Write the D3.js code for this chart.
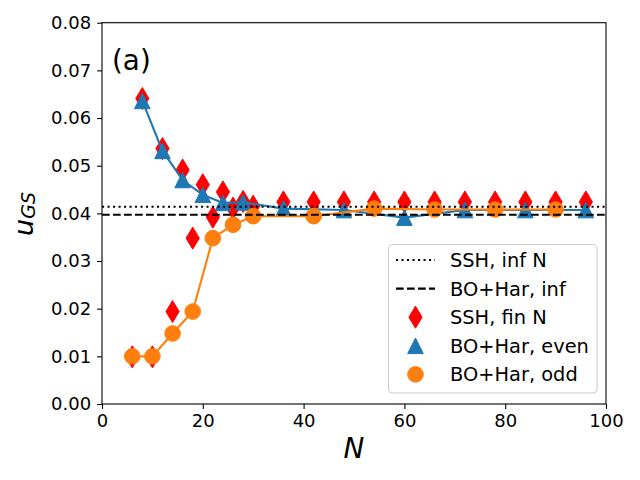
<!DOCTYPE html>
<html>
<head>
<meta charset="utf-8">
<script src="https://cdn.jsdelivr.net/npm/d3@7"></script>
<style>
	body { margin: 0; background: #fff; }
	text { font-family: "DejaVu Sans", sans-serif; fill: #000; }
</style>
</head>
<body>
<div id="chart"></div>
<script>
// ground state energy vs N

var finN = [6, 8, 10, 12, 14, 16, 18, 20, 22, 24, 26, 28, 30, 36, 42, 48, 54, 60, 66, 72, 78, 84, 90, 96];
var finU = [0.0099, 0.0641, 0.0099, 0.0536, 0.0194, 0.0491, 0.0348, 0.0460, 0.0392, 0.0445, 0.0411, 0.0425,
	0.0415, 0.0424, 0.0424, 0.0424, 0.0424, 0.0424, 0.0424, 0.0424, 0.0424, 0.0424, 0.0424, 0.0424];

var evenN = [8, 12, 16, 20, 24, 28, 36, 48, 60, 72, 84, 96];
var evenU = [0.0636, 0.0531, 0.0470, 0.0439, 0.0422, 0.0423, 0.0410, 0.0407, 0.0391, 0.0407, 0.0407, 0.0407];

var oddN = [6, 10, 14, 18, 22, 26, 30, 42, 54, 66, 78, 90];
var oddU = [0.0100, 0.0100, 0.0148, 0.0194, 0.0348, 0.0376, 0.0394, 0.0394, 0.0410, 0.0408, 0.0408, 0.0408];

var sshInf = 0.0414;
var boInf = 0.0397;

var xTicks = [0, 20, 40, 60, 80, 100];
var yTicks = [0, 0.01, 0.02, 0.03, 0.04, 0.05, 0.06, 0.07, 0.08];

var legendLabels = ["SSH, inf N", "BO+Har, inf", "SSH, fin N", "BO+Har, even", "BO+Har, odd"];

var w = 640,
	h = 480,
	blue = "#1f77b4",
	orange = "#ff7f0e";

var x = d3.scaleLinear().domain([0, 100]).range([102, 606]);
var y = d3.scaleLinear().domain([0, 0.08]).range([404, 22.7]);

function diamondPath(hw, hh) {
	return "M0," + (-hh) + "L" + hw + ",0L0," + hh + "L" + (-hw) + ",0Z";
}
function trianglePath(s) {
	return "M0," + (-s) + "L" + s + "," + s + "L" + (-s) + "," + s + "Z";
}

var svg = d3.select("#chart")
	.append("svg")
	.attr("width", w)
	.attr("height", h);

// axes
var xAxis = d3.axisBottom(x).tickValues(xTicks).tickFormat(d3.format("d"))
	.tickSize(4.9).tickPadding(5);
var yAxis = d3.axisLeft(y).tickValues(yTicks).tickFormat(d3.format(".2f"))
	.tickSize(4.9).tickPadding(6);

var gx = svg.append("g")
	.attr("transform", "translate(0," + y(0) + ")")
	.call(xAxis);
var gy = svg.append("g")
	.attr("transform", "translate(" + x(0) + ",0)")
	.call(yAxis);

[gx, gy].forEach(function(g) {
	g.selectAll("text")
		.attr("font-family", "DejaVu Sans")
		.attr("font-size", "18px")
		.attr("fill", "#000");
	g.selectAll("line").attr("stroke", "#000").attr("stroke-width", 1.1);
	g.select(".domain").remove();
});

// frame
svg.append("rect")
	.attr("x", x(0))
	.attr("y", y(0.08))
	.attr("width", x(100) - x(0))
	.attr("height", y(0) - y(0.08))
	.attr("fill", "none")
	.attr("stroke", "#000")
	.attr("stroke-width", 1.1);

// SSH finite N
svg.selectAll("path.fin")
	.data(finN)
	.enter().append("path")
	.attr("class", "fin")
	.attr("d", diamondPath(6.6, 11))
	.attr("transform", function(d, i) {
		return "translate(" + x(d) + "," + y(finU[i]) + ")";
	})
	.attr("fill", "red")
	.attr("stroke", "red")
	.attr("stroke-width", 1);

// BO+Har even
var line = d3.line()
	.x(function(d) { return x(d[0]); })
	.y(function(d) { return y(d[1]); });

svg.append("path")
	.datum(d3.zip(evenN, evenU))
	.attr("d", line)
	.attr("fill", "none")
	.attr("stroke", blue)
	.attr("stroke-width", 2.1);

svg.selectAll("path.even")
	.data(evenN)
	.enter().append("path")
	.attr("class", "even")
	.attr("d", trianglePath(7.8))
	.attr("transform", function(d, i) {
		return "translate(" + x(d) + "," + y(evenU[i]) + ")";
	})
	.attr("fill", blue)
	.attr("stroke", blue)
	.attr("stroke-width", 1);

// BO+Har odd
svg.append("path")
	.datum(d3.zip(oddN, oddU))
	.attr("d", line)
	.attr("fill", "none")
	.attr("stroke", orange)
	.attr("stroke-width", 2.1);

svg.selectAll("circle.odd")
	.data(oddN)
	.enter().append("circle")
	.attr("class", "odd")
	.attr("cx", function(d) { return x(d); })
	.attr("cy", function(d, i) { return y(oddU[i]); })
	.attr("r", 7.8)
	.attr("fill", orange)
	.attr("stroke", orange)
	.attr("stroke-width", 1);

// infinite N limits
svg.append("line")
	.attr("x1", x(0)).attr("x2", x(100))
	.attr("y1", y(sshInf)).attr("y2", y(sshInf))
	.attr("stroke", "#000")
	.attr("stroke-width", 2.1)
	.attr("stroke-dasharray", "2.1,3.4");

svg.append("line")
	.attr("x1", x(0)).attr("x2", x(100))
	.attr("y1", y(boInf)).attr("y2", y(boInf))
	.attr("stroke", "#000")
	.attr("stroke-width", 2.1)
	.attr("stroke-dasharray", "7.7,3.3");

// labels
svg.append("text")
	.attr("x", 112)
	.attr("y", 69.5)
	.attr("font-size", "27.8px")
	.text("(a)");

svg.append("text")
	.attr("x", (x(0) + x(100)) / 2)
	.attr("y", 458)
	.attr("text-anchor", "middle")
	.attr("font-size", "27.8px")
	.attr("font-style", "italic")
	.text("N");

var yl = svg.append("text")
	.attr("transform", "translate(33,214) rotate(-90)")
	.attr("text-anchor", "middle")
	.attr("font-style", "italic");
yl.append("tspan").attr("font-size", "27px").text("u");
yl.append("tspan").attr("font-size", "19px").attr("dy", 2).text("GS");

// legend
var lg = svg.append("g");
lg.append("rect")
	.attr("x", 388.5)
	.attr("y", 244.5)
	.attr("width", 208.5)
	.attr("height", 148.5)
	.attr("rx", 4)
	.attr("fill", "#fff")
	.attr("fill-opacity", 0.8)
	.attr("stroke", "#cccccc")
	.attr("stroke-width", 1.1);

var rowY = function(i) { return 260 + i * 28.6; };

lg.selectAll("text")
	.data(legendLabels)
	.enter().append("text")
	.attr("x", 450)
	.attr("y", function(d, i) { return rowY(i); })
	.attr("dy", "0.36em")
	.attr("font-size", "19.4px")
	.text(function(d) { return d; });

lg.append("line")
	.attr("x1", 396).attr("x2", 435)
	.attr("y1", rowY(0)).attr("y2", rowY(0))
	.attr("stroke", "#000").attr("stroke-width", 2.1)
	.attr("stroke-dasharray", "2.1,3.4");
lg.append("line")
	.attr("x1", 396).attr("x2", 435)
	.attr("y1", rowY(1)).attr("y2", rowY(1))
	.attr("stroke", "#000").attr("stroke-width", 2.1)
	.attr("stroke-dasharray", "7.7,3.3");
lg.append("path")
	.attr("d", diamondPath(6.6, 11))
	.attr("transform", "translate(415.5," + rowY(2) + ")")
	.attr("fill", "red").attr("stroke", "red").attr("stroke-width", 1);
lg.append("path")
	.attr("d", trianglePath(7.8))
	.attr("transform", "translate(415.5," + rowY(3) + ")")
	.attr("fill", blue).attr("stroke", blue).attr("stroke-width", 1);
lg.append("circle")
	.attr("cx", 415.5).attr("cy", rowY(4)).attr("r", 7.8)
	.attr("fill", orange).attr("stroke", orange).attr("stroke-width", 1);
</script>
</body>
</html>
